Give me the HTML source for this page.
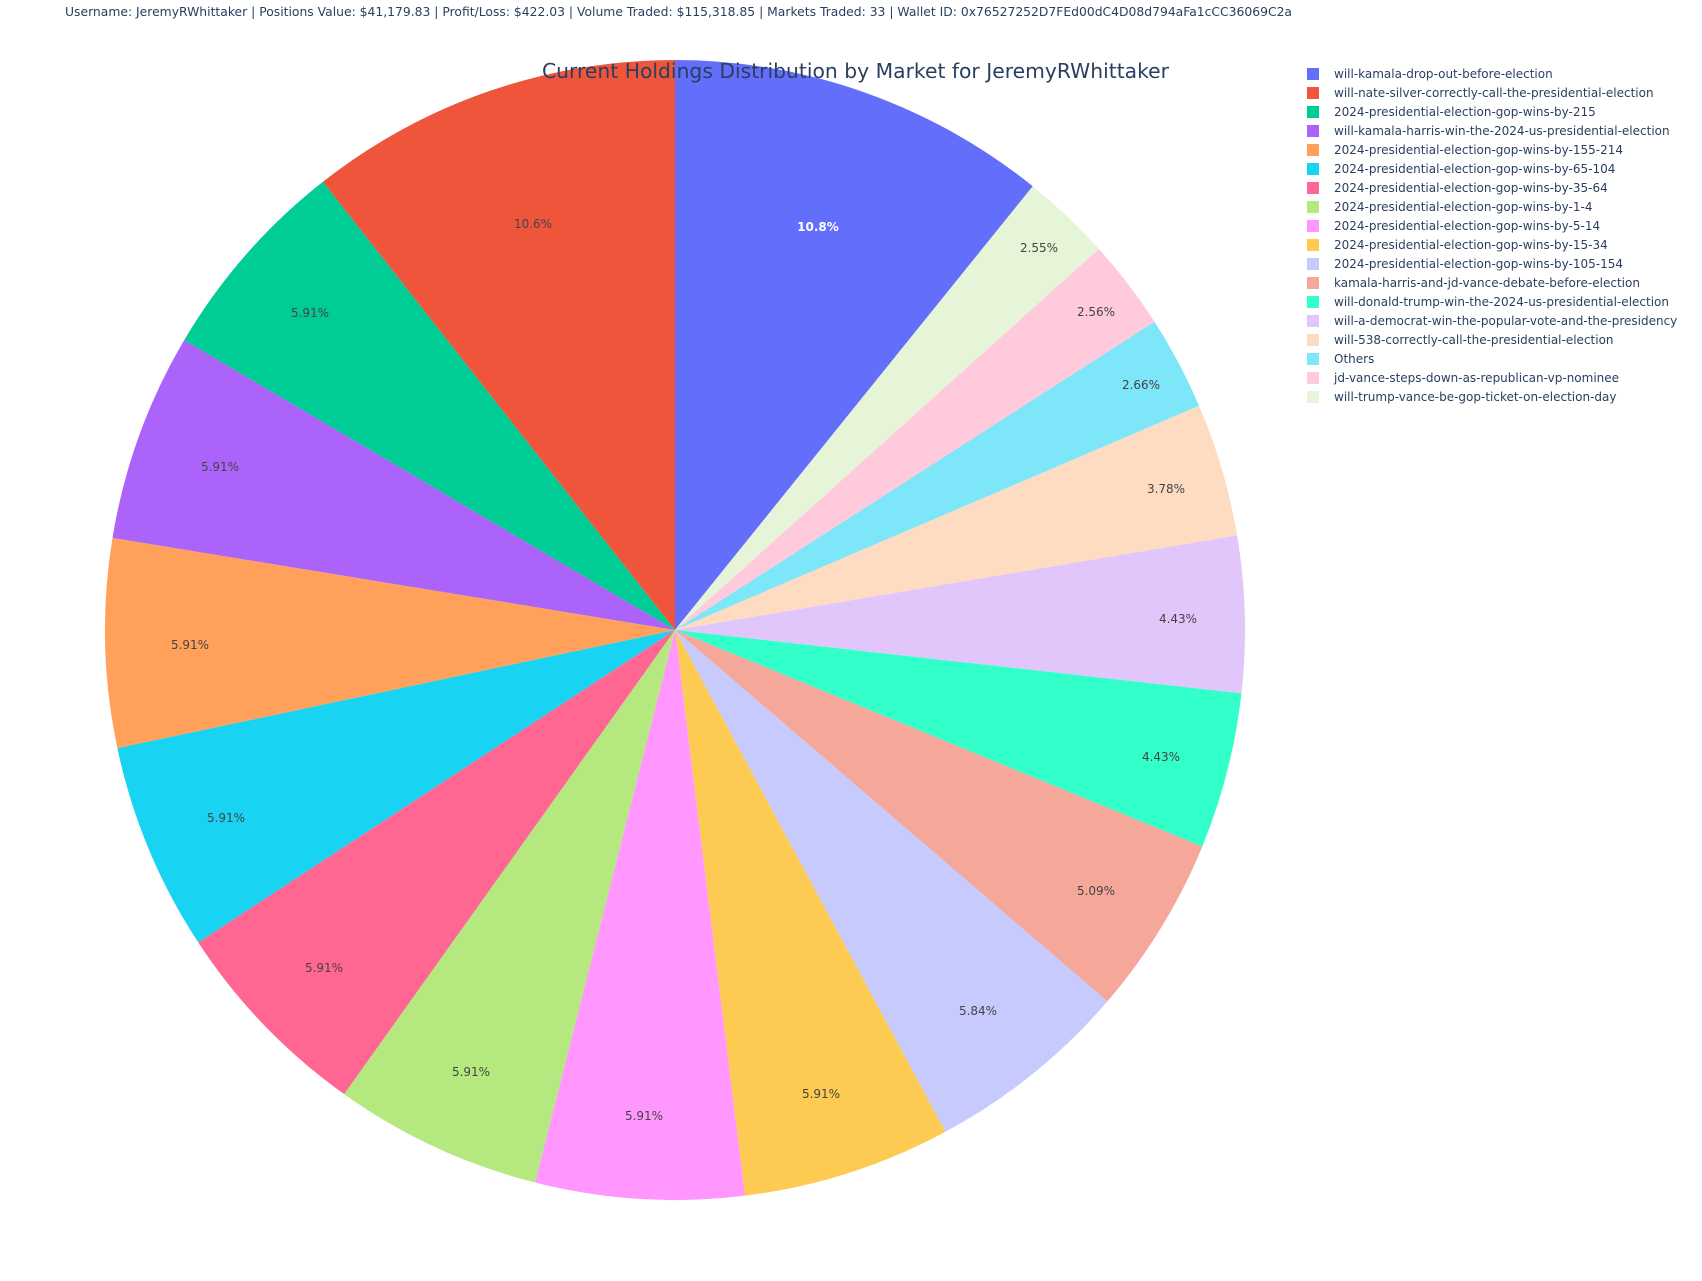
<!DOCTYPE html>
<html><head><meta charset="utf-8"><style>
html,body{margin:0;padding:0;background:#fff;}
svg{display:block;font-family:"DejaVu Sans","Liberation Sans",sans-serif;}
</style></head><body>
<svg id="s" width="1702" height="1281" viewBox="0 0 1702 1281" xmlns="http://www.w3.org/2000/svg">
<rect width="1702" height="1281" fill="#fff"/>
<g id="pie"></g>
<g font-size="12" fill="#444" text-anchor="middle" dominant-baseline="central">
<text x="818" y="227" fill="#fff" font-weight="bold">10.8%</text>
<text x="533" y="224">10.6%</text>
<text x="1039" y="248">2.55%</text>
<text x="1096" y="312">2.56%</text>
<text x="1141" y="385">2.66%</text>
<text x="1166" y="489">3.78%</text>
<text x="1178" y="619">4.43%</text>
<text x="1161" y="757">4.43%</text>
<text x="1096" y="891">5.09%</text>
<text x="978" y="1011">5.84%</text>
<text x="821" y="1094">5.91%</text>
<text x="644" y="1116">5.91%</text>
<text x="471" y="1072">5.91%</text>
<text x="324" y="968">5.91%</text>
<text x="226" y="818">5.91%</text>
<text x="190" y="645">5.91%</text>
<text x="220" y="467">5.91%</text>
<text x="310" y="313">5.91%</text>
</g>
<text x="65" y="16" font-size="12" fill="#2a3f5f" textLength="1227" lengthAdjust="spacingAndGlyphs">Username: JeremyRWhittaker | Positions Value: $41,179.83 | Profit/Loss: $422.03 | Volume Traded: $115,318.85 | Markets Traded: 33 | Wallet ID: 0x76527252D7FEd00dC4D08d794aFa1cCC36069C2a</text>
<text x="542" y="78" font-size="20" fill="#2a3f5f" textLength="627" lengthAdjust="spacingAndGlyphs">Current Holdings Distribution by Market for JeremyRWhittaker</text>
<g id="leg" font-size="12" fill="#2a3f5f">
<text x="1334" y="78">will-kamala-drop-out-before-election</text>
<text x="1334" y="97">will-nate-silver-correctly-call-the-presidential-election</text>
<text x="1334" y="116">2024-presidential-election-gop-wins-by-215</text>
<text x="1334" y="135">will-kamala-harris-win-the-2024-us-presidential-election</text>
<text x="1334" y="154">2024-presidential-election-gop-wins-by-155-214</text>
<text x="1334" y="173">2024-presidential-election-gop-wins-by-65-104</text>
<text x="1334" y="192">2024-presidential-election-gop-wins-by-35-64</text>
<text x="1334" y="211">2024-presidential-election-gop-wins-by-1-4</text>
<text x="1334" y="230">2024-presidential-election-gop-wins-by-5-14</text>
<text x="1334" y="249">2024-presidential-election-gop-wins-by-15-34</text>
<text x="1334" y="268">2024-presidential-election-gop-wins-by-105-154</text>
<text x="1334" y="287">kamala-harris-and-jd-vance-debate-before-election</text>
<text x="1334" y="306">will-donald-trump-win-the-2024-us-presidential-election</text>
<text x="1334" y="325">will-a-democrat-win-the-popular-vote-and-the-presidency</text>
<text x="1334" y="344">will-538-correctly-call-the-presidential-election</text>
<text x="1334" y="363">Others</text>
<text x="1334" y="382">jd-vance-steps-down-as-republican-vp-nominee</text>
<text x="1334" y="401">will-trump-vance-be-gop-ticket-on-election-day</text>
</g>
</svg>
<script>
var cx=675,cy=630,r=570;
var sl=[[10.8,"#636efa"],[2.55,"#e6f5d8"],[2.56,"#ffcadb"],[2.66,"#7ee6f9"],[3.78,"#fedcc1"],[4.43,"#e0c6fb"],[4.43,"#32ffca"],[5.09,"#f5a79a"],[5.84,"#c7cafc"],[5.91,"#FECB52"],[5.91,"#FF97FF"],[5.91,"#B6E880"],[5.91,"#FF6692"],[5.91,"#19d3f3"],[5.91,"#FFA15A"],[5.91,"#ab63fa"],[5.91,"#00cc96"],[10.6,"#EF553B"]];
var tot=0;sl.forEach(function(s){tot+=s[0];});
var a=0,g=document.getElementById('pie'),h="";
sl.forEach(function(s){
 var a0=a/tot*2*Math.PI,a1=(a+s[0])/tot*2*Math.PI;a+=s[0];
 var x0=cx+r*Math.sin(a0),y0=cy-r*Math.cos(a0),x1=cx+r*Math.sin(a1),y1=cy-r*Math.cos(a1);
 h+='<path d="M'+cx+','+cy+'L'+x0+','+y0+'A'+r+','+r+' 0 '+((a1-a0)>Math.PI?1:0)+' 1 '+x1+','+y1+'Z" fill="'+s[1]+'"/>';
});
g.innerHTML=h;
var cols=["#636efa","#EF553B","#00cc96","#ab63fa","#FFA15A","#19d3f3","#FF6692","#B6E880","#FF97FF","#FECB52","#c7cafc","#f5a79a","#32ffca","#e0c6fb","#fedcc1","#7ee6f9","#ffcadb","#e6f5d8"];
var lg=document.getElementById('leg'),hh="";
cols.forEach(function(c,i){hh+='<rect x="1307" y="'+(68+19*i)+'" width="12" height="12" fill="'+c+'"/>';});
lg.insertAdjacentHTML('beforeend',hh);
</script>
</body></html>
